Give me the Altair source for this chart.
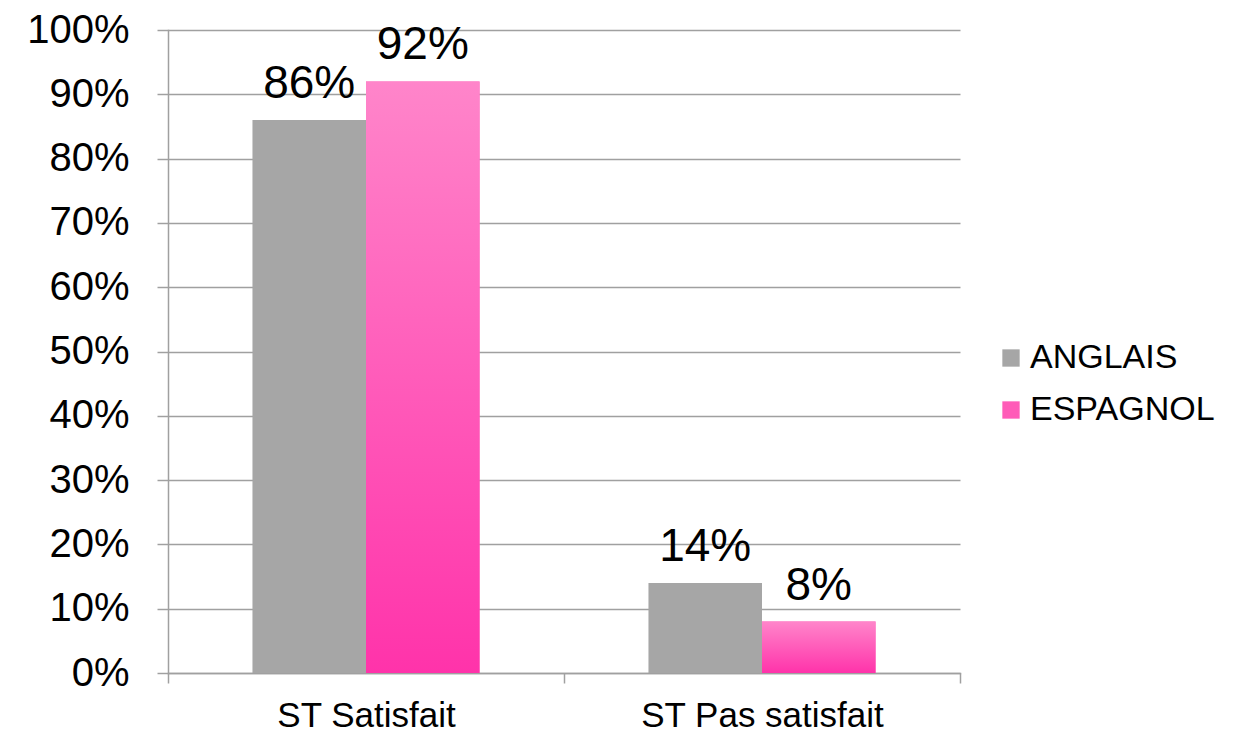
import altair as alt
import pandas as pd

categories = ["ST Satisfait", "ST Pas satisfait"]
series = ["ANGLAIS", "ESPAGNOL"]
anglais = [0.86, 0.14]
espagnol = [0.92, 0.08]
labels_anglais = ["86%", "14%"]
labels_espagnol = ["92%", "8%"]

rows = []
for i, c in enumerate(categories):
    rows.append({"cat": c, "serie": "ANGLAIS", "val": anglais[i], "lab": labels_anglais[i]})
    rows.append({"cat": c, "serie": "ESPAGNOL", "val": espagnol[i], "lab": labels_espagnol[i]})
df = pd.DataFrame(rows)

FONT = "Liberation Sans"
GRAY = "#A6A6A6"
PINK = "#FF5CB8"

x = alt.X("cat:N", sort=categories, title=None,
          scale=alt.Scale(paddingInner=0, paddingOuter=0),
          axis=alt.Axis(labelAngle=0, labelFontSize=35, labelFont=FONT, labelColor="black",
                        tickBand="extent", tickSize=10, tickColor="#A0A0A0", tickWidth=1.5,
                        domainColor="#A0A0A0", domainWidth=1.5, labelPadding=15,
                        labelLimit=600, grid=False))
xo = alt.XOffset("serie:N", sort=series, scale=alt.Scale(paddingInner=0, paddingOuter=0.744))
y = alt.Y("val:Q", title=None,
          scale=alt.Scale(domain=[0, 1], nice=False),
          axis=alt.Axis(format=".0%", values=[i / 10 for i in range(11)],
                        labelFontSize=40, labelFont=FONT, labelColor="black",
                        tickSize=11, tickColor="#A0A0A0", tickWidth=1.5,
                        domainColor="#A0A0A0", domainWidth=1.5, labelPadding=28,
                        grid=True, gridColor="#A0A0A0", gridWidth=1.5))

color = alt.Color("serie:N", sort=series, title=None,
                  scale=alt.Scale(domain=series, range=[GRAY, PINK]),
                  legend=alt.Legend(orient="none", legendX=826, legendY=311,
                                    symbolType="square", symbolSize=300, symbolStrokeWidth=0,
                                    symbolOpacity=1,
                                    labelFontSize=34, labelFont=FONT, labelColor="black",
                                    labelOffset=2, rowPadding=18, labelLimit=400))

bars = alt.Chart(df).mark_bar(opacity=1).encode(x=x, xOffset=xo, y=y, color=color)

grad = alt.Gradient(gradient="linear", x1=0, y1=0, x2=0, y2=1,
                    stops=[alt.GradientStop(color="#FF85CA", offset=0),
                           alt.GradientStop(color="#FF33AA", offset=1)])

pink = alt.Chart(df).transform_filter(alt.datum.serie == "ESPAGNOL").mark_bar(
    fill=grad, opacity=1).encode(x=x, xOffset=xo, y=y)

text = alt.Chart(df).mark_text(baseline="alphabetic", dy=-22, fontSize=46, font=FONT,
                               color="black").encode(x=x, xOffset=xo, y=y, text="lab:N")

chart = alt.layer(bars, pink, text).properties(
    width=792, height=643,
    autosize=alt.AutoSizeParams(type="none"),
    padding={"left": 160, "top": 22, "right": 265, "bottom": 61},
).configure_view(stroke=None).configure_axis(domainCap="square")

chart.save("out.html", embed_options={"renderer": "svg", "actions": False})
